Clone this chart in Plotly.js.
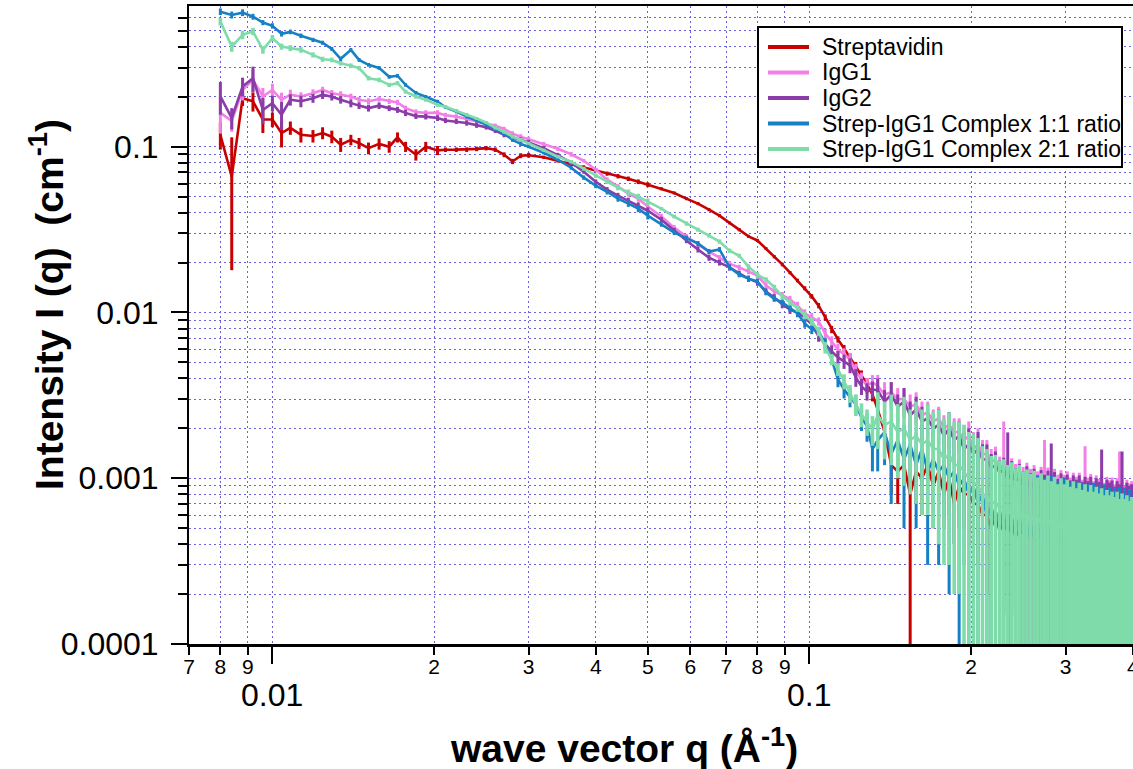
<!DOCTYPE html>
<html>
<head>
<meta charset="utf-8">
<script src="https://cdn.plot.ly/plotly-3.0.1.min.js"></script>
<style>html,body{margin:0;padding:0;background:#fff;}#chart{width:1133px;height:769px;}</style>
</head>
<body>
<div id="chart"></div>
<script>
// ---------- q grids (Å^-1) ----------
const qLow = [0.0080,0.0084,0.0088,0.0092,0.0096,0.0100,0.0104,0.0108,0.0113,0.0119,0.0124,0.0129,0.0134,0.0140,0.0145,0.0151,0.0158,0.0165,0.0171,0.0177,0.0185,0.0193,0.0203];
const qMid = [0.021,0.022,0.023,0.024,0.025,0.026,0.027,0.028,0.029,0.030,
  0.032,0.034,0.036,0.038,0.040,0.042,0.044,0.046,0.048,0.050,
  0.053,0.056,0.059,0.062,0.065,0.068,0.071,0.074,0.077,0.080,0.083,0.086,0.089,0.092,0.095,0.098,0.101,0.104,0.107,0.110,0.113,0.116,0.119,0.122,0.125,0.128,0.131];
const qHigh = [0.134,0.138,0.142,0.146,0.150,0.154,0.158,0.162,0.166,0.170,0.174,0.178,0.182,0.186,0.190,0.194,0.198,0.202,0.206,0.210,
  0.214,0.218,0.222,0.226,0.230,0.234,0.238,0.242,0.246,0.250,0.254,0.258,0.262,0.266,0.270,0.274,0.278,0.282,0.286,0.290,
  0.294,0.298,0.302,0.306,0.310,0.314,0.318,0.322,0.326,0.330,0.334,0.338,0.342,0.346,0.350,0.354,0.358,0.362,0.366,0.370,
  0.374,0.378,0.382,0.386,0.390,0.394,0.398];

// ---------- Streptavidin ----------
const strepLow = [0.118,0.066,0.196,0.188,0.146,0.146,0.121,0.130,0.118,0.116,0.121,0.115,0.103,0.110,0.105,0.098,0.104,0.100,0.114,0.100,0.0895,0.100,0.095];
const strepLowErr = [0.022,0.048,0.020,0.025,0.025,0.015,0.022,0.012,0.012,0.010,0.010,0.010,0.010,0.008,0.008,0.008,0.008,0.008,0.008,0.007,0.007,0.007,0.006];
const strepMid = [0.0959,0.096,0.096,0.097,0.098,0.096,0.0895,0.0815,0.0883,0.0889,
  0.0864,0.0823,0.0785,0.0753,0.0722,0.0688,0.0664,0.0641,0.0615,0.0590,
  0.0558,0.0526,0.0486,0.0454,0.0417,0.0384,0.0347,0.0316,0.0288,0.0272,0.0243,0.0217,0.0195,0.0174,0.0156,0.0140,0.0125,0.0110,0.00933,0.00790,0.00688,0.00607,0.00536,0.00473,0.00417,0.00368,0.00321];
const strepMidErr = [0.003,0.003,0.003,0.003,0.003,0.003,0.003,0.003,0.003,0.003,
  0.002,0.002,0.002,0.002,0.002,0.002,0.002,0.002,0.002,0.002,
  0.0012,0.0011,0.001,0.001,0.0009,0.0008,0.0007,0.0007,0.0006,0.0006,0.0005,0.0005,0.0005,0.0004,0.0004,0.0004,0.0004,0.0004,0.0004,0.0004,0.0003,0.0003,0.0003,0.0003,0.0003,0.0003,0.0003];
const strepHigh = [0.0026,0.0019,0.0012,0.0011,0.0012,0.0008,0.0011,0.0010,0.0012,0.0009,
  0.0011,0.0008,0.0010,0.0007,0.0009,0.0008,0.0008,0.0007,0.0007,0.0006,
  0.0006,0.0005,0.0006,0.00048,0.00055,0.00047,0.00055,0.00044,0.0005,0.00046,
  0.0005,0.00043,0.0005,0.00045,0.00048,0.00042,0.0005,0.0004,0.00047,0.00042,
  0.00047,0.0004,0.00046,0.00042,0.00047,0.0004,0.00045,0.00041,0.00046,0.0004,
  0.00045,0.0004,0.00046,0.00039,0.00045,0.0004,0.00044,0.00039,0.00045,0.0004,
  0.00044,0.00039,0.00045,0.0004,0.00043,0.00039,0.00044];
const strepHighErr = [0.0003,0.0004,0.0004,0.0004,0.0003,0.00075,0.0004,0.0004,0.0004,0.0004,
  0.0004,0.0003,0.0004,0.0003,0.0004,0.0003,0.0004,0.0004,0.0004,0.0004,
  0.0004,0.00045,0.0004,0.00045,0.0004,0.00044,0.0004,0.00042,0.0004,0.00043,
  0.00042,0.0004,0.00045,0.00042,0.0004,0.0004,0.00042,0.00038,0.0004,0.0004,
  0.0004,0.00038,0.0004,0.0004,0.00042,0.00038,0.0004,0.0004,0.0004,0.00038,
  0.0004,0.00038,0.0004,0.00037,0.0004,0.00038,0.0004,0.00037,0.0004,0.00038,
  0.0004,0.00037,0.0004,0.00038,0.0004,0.00037,0.0004];

// ---------- IgG1 ----------
const igg1Low = [0.160,0.143,0.220,0.253,0.201,0.220,0.192,0.206,0.201,0.210,0.220,0.210,0.206,0.201,0.192,0.188,0.194,0.188,0.185,0.171,0.162,0.160,0.160];
const igg1LowErr = [0.040,0.020,0.030,0.040,0.025,0.020,0.020,0.015,0.012,0.012,0.010,0.010,0.010,0.008,0.008,0.008,0.007,0.007,0.007,0.006,0.006,0.006,0.006];
const igg1Mid = [0.155,0.152,0.147,0.142,0.138,0.134,0.128,0.120,0.115,0.111,
  0.104,0.0973,0.0901,0.0823,0.0726,0.0633,0.0574,0.0521,0.0486,0.0436,
  0.0379,0.0325,0.0287,0.0257,0.0233,0.0214,0.0197,0.0187,0.0177,0.0167,0.0146,0.0134,0.0127,0.0120,0.0110,0.00986,0.00933,0.00883,0.00747,0.00668,0.00598,0.00558,0.00521,0.00441,0.00394,0.00363,0.00379];
const igg1MidErr = [0.005,0.005,0.005,0.004,0.004,0.004,0.004,0.004,0.004,0.004,
  0.003,0.003,0.003,0.002,0.002,0.002,0.002,0.002,0.002,0.002,
  0.0015,0.0012,0.001,0.001,0.0009,0.0008,0.0008,0.0007,0.0007,0.0007,0.0006,0.0006,0.0006,0.0006,0.0006,0.0006,0.0006,0.0005,0.0005,0.0005,0.0005,0.0005,0.0005,0.0005,0.0004,0.0004,0.0004];
const igg1High = [0.0036,0.0032,0.0033,0.0030,0.0030,0.0027,0.0028,0.0024,0.0025,0.0022,
  0.0023,0.0020,0.0021,0.0019,0.0019,0.0017,0.0018,0.0015,0.0016,0.0014,
  0.0014,0.00125,0.0013,0.00115,0.0012,0.00107,0.00112,0.00102,0.0011,0.00097,
  0.00104,0.00094,0.00100,0.00090,0.00097,0.00090,0.00096,0.00087,0.00094,0.00085,
  0.00092,0.00085,0.00090,0.00081,0.00088,0.00082,0.00088,0.00078,0.00086,0.00081,
  0.00086,0.00076,0.00084,0.00079,0.00083,0.00074,0.00082,0.00077,0.00081,0.00072,
  0.00080,0.00075,0.00079,0.00070,0.00078,0.00073,0.00076];
const igg1HighErr = [0.0006,0.0006,0.0005,0.0005,0.0005,0.0005,0.0005,0.0005,0.0004,0.0004,
  0.0004,0.0004,0.0004,0.0004,0.0004,0.0004,0.0004,0.0004,0.0004,0.0003,
  0.0003,0.00025,0.00025,0.0002,0.0010,0.0002,0.0002,0.0002,0.0002,0.0002,
  0.0002,0.0002,0.0002,0.0002,0.0002,0.0008,0.0002,0.0002,0.0002,0.0002,
  0.0002,0.0002,0.0002,0.0002,0.0002,0.0002,0.0002,0.0002,0.0007,0.0002,
  0.0002,0.0002,0.0002,0.0002,0.0002,0.0002,0.0002,0.0002,0.0002,0.0002,
  0.0002,0.0007,0.0002,0.0002,0.0002,0.0002,0.0002];

// ---------- IgG2 ----------
const igg2Low = [0.201,0.149,0.231,0.259,0.167,0.183,0.156,0.192,0.188,0.196,0.206,0.200,0.192,0.183,0.177,0.171,0.177,0.171,0.167,0.160,0.153,0.152,0.149];
const igg2LowErr = [0.045,0.022,0.030,0.045,0.030,0.020,0.030,0.015,0.015,0.012,0.012,0.010,0.010,0.010,0.008,0.008,0.008,0.007,0.007,0.007,0.006,0.006,0.006];
const igg2Mid = [0.144,0.142,0.139,0.135,0.131,0.125,0.118,0.114,0.110,0.106,
  0.0980,0.0889,0.0801,0.0707,0.0615,0.0551,0.0507,0.0473,0.0442,0.0411,
  0.0363,0.0312,0.0272,0.0240,0.0214,0.0200,0.0187,0.0172,0.0160,0.0152,0.0134,0.0123,0.0112,0.0104,0.0100,0.00933,0.00847,0.00716,0.00641,0.00582,0.00536,0.00507,0.00480,0.00406,0.00358,0.00334,0.00343];
const igg2MidErr = [0.005,0.005,0.005,0.005,0.004,0.004,0.004,0.004,0.004,0.004,
  0.003,0.003,0.003,0.002,0.002,0.002,0.002,0.002,0.002,0.002,
  0.0015,0.0012,0.001,0.001,0.0009,0.0008,0.0008,0.0007,0.0007,0.0007,0.0006,0.0006,0.0006,0.0006,0.0006,0.0006,0.0006,0.0005,0.0005,0.0005,0.0005,0.0005,0.0005,0.0005,0.0004,0.0004,0.0004];
const igg2High = [0.0034,0.0029,0.0032,0.0027,0.0029,0.0024,0.0026,0.0022,0.0023,0.0020,
  0.0021,0.0018,0.0020,0.0017,0.0018,0.0015,0.0016,0.0014,0.0015,0.0013,
  0.0013,0.00115,0.0012,0.00108,0.00113,0.00099,0.00107,0.00095,0.00102,0.00090,
  0.00098,0.00087,0.00094,0.00084,0.00092,0.00085,0.00091,0.00082,0.00089,0.00079,
  0.00087,0.00081,0.00085,0.00077,0.00084,0.00078,0.00084,0.00075,0.00082,0.00076,
  0.00082,0.00073,0.00080,0.00075,0.00079,0.00071,0.00078,0.00074,0.00077,0.00069,
  0.00076,0.00072,0.00075,0.00067,0.00074,0.00070,0.00072];
const igg2HighErr = [0.0006,0.0005,0.0006,0.0005,0.0006,0.0005,0.0005,0.0005,0.0005,0.0004,
  0.0005,0.0004,0.0005,0.0004,0.0004,0.0004,0.0004,0.0004,0.0004,0.0003,
  0.0003,0.00025,0.00025,0.0002,0.0002,0.0009,0.0002,0.0002,0.0002,0.0002,
  0.0002,0.0002,0.0002,0.0002,0.0002,0.0002,0.0002,0.0008,0.0002,0.0002,
  0.0002,0.0002,0.0002,0.0002,0.0002,0.0002,0.0002,0.0002,0.0002,0.0002,
  0.0002,0.0002,0.0002,0.0002,0.0007,0.0002,0.0002,0.0002,0.0002,0.0002,
  0.0002,0.0002,0.0007,0.0002,0.0002,0.0002,0.0002];

// ---------- Strep-IgG1 Complex 1:1 ----------
const c11Low = [0.653,0.624,0.644,0.609,0.561,0.536,0.480,0.493,0.467,0.441,0.424,0.389,0.339,0.384,0.334,0.312,0.299,0.264,0.268,0.236,0.211,0.200,0.187];
const c11LowErr = [0.030,0.030,0.030,0.025,0.020,0.020,0.018,0.016,0.015,0.013,0.012,0.011,0.010,0.010,0.009,0.008,0.008,0.007,0.007,0.006,0.006,0.005,0.005];
const c11Mid = [0.173,0.163,0.152,0.144,0.136,0.128,0.120,0.110,0.104,0.100,
  0.0920,0.0835,0.0747,0.0651,0.0582,0.0535,0.0486,0.0454,0.0423,0.0384,
  0.0339,0.0303,0.0281,0.0261,0.0233,0.0240,0.0187,0.0169,0.0160,0.0154,0.0132,0.0121,0.0115,0.0106,0.00986,0.00859,0.00790,0.00769,0.00650,0.00521,0.00394,0.00343,0.00308,0.00279,0.00233,0.00206,0.00150];
const c11MidErr = [0.004,0.004,0.004,0.003,0.003,0.003,0.003,0.003,0.003,0.002,
  0.002,0.002,0.002,0.002,0.002,0.002,0.002,0.002,0.002,0.002,
  0.001,0.001,0.001,0.0009,0.0008,0.0008,0.0007,0.0006,0.0006,0.0006,0.0005,0.0005,0.0005,0.0005,0.0005,0.0005,0.0005,0.0005,0.0005,0.0004,0.0004,0.0004,0.0004,0.0004,0.0004,0.0004,0.0004];
const c11High = [0.0017,0.0019,0.0014,0.0017,0.0013,0.0016,0.0012,0.0015,0.0011,0.0013,
  0.0011,0.0012,0.0010,0.0011,0.0009,0.0010,0.0008,0.0009,0.0007,0.0008,
  0.00058,0.00068,0.00053,0.00064,0.0005,0.0006,0.00051,0.00058,0.00047,0.00055,
  0.00044,0.00053,0.00047,0.00053,0.00043,0.00051,0.00046,0.00053,0.00041,0.00049,
  0.00044,0.00051,0.00041,0.00048,0.00039,0.00049,0.00043,0.00048,0.00038,0.00047,
  0.00041,0.00048,0.00037,0.00046,0.00041,0.00047,0.00037,0.00045,0.0004,0.00045,
  0.00036,0.00045,0.00039,0.00045,0.00035,0.00044,0.00038];
const c11HighErr = [0.0006,0.0007,0.0007,0.0006,0.0008,0.0006,0.0007,0.0006,0.0008,0.0006,
  0.0008,0.0006,0.0008,0.0007,0.0008,0.0007,0.0008,0.0008,0.0007,0.0008,
  0.00056,0.00066,0.00051,0.00062,0.00048,0.00058,0.00049,0.00056,0.00045,0.00053,
  0.00042,0.00051,0.00045,0.00051,0.00041,0.00049,0.00044,0.00051,0.00039,0.00047,
  0.00042,0.00049,0.00039,0.00046,0.00037,0.00047,0.00041,0.00046,0.00036,0.00045,
  0.00039,0.00046,0.00035,0.00044,0.00039,0.00045,0.00035,0.00043,0.00038,0.00043,
  0.00034,0.00043,0.00037,0.00043,0.00033,0.00042,0.00036];

// ---------- Strep-IgG1 Complex 2:1 ----------
const c21Low = [0.569,0.402,0.473,0.496,0.384,0.452,0.402,0.394,0.384,0.358,0.337,0.334,0.319,0.308,0.298,0.259,0.253,0.236,0.242,0.215,0.201,0.192,0.179];
const c21LowErr = [0.030,0.028,0.028,0.025,0.020,0.020,0.017,0.016,0.015,0.013,0.012,0.011,0.010,0.010,0.009,0.008,0.008,0.007,0.007,0.006,0.006,0.005,0.005];
const c21Mid = [0.174,0.165,0.156,0.148,0.140,0.130,0.123,0.115,0.110,0.105,
  0.0953,0.0871,0.0812,0.0737,0.0668,0.0615,0.0566,0.0532,0.0500,0.0467,
  0.0423,0.0379,0.0344,0.0316,0.0291,0.0268,0.0236,0.0220,0.0189,0.0169,0.0158,0.0142,0.0125,0.0115,0.0106,0.00959,0.00883,0.00769,0.00615,0.00521,0.00454,0.00384,0.00325,0.00279,0.00243,0.00220,0.00197];
const c21MidErr = [0.004,0.004,0.004,0.003,0.003,0.003,0.003,0.003,0.003,0.002,
  0.002,0.002,0.002,0.002,0.002,0.002,0.002,0.002,0.002,0.002,
  0.001,0.001,0.001,0.0009,0.0008,0.0008,0.0007,0.0006,0.0006,0.0006,0.0005,0.0005,0.0005,0.0005,0.0005,0.0005,0.0005,0.0005,0.0005,0.0004,0.0004,0.0004,0.0004,0.0004,0.0004,0.0004,0.0004];
const c21High = [0.0024,0.0021,0.0022,0.0019,0.0020,0.0017,0.0018,0.0016,0.0017,0.0015,
  0.0015,0.0013,0.0014,0.0012,0.0012,0.0011,0.0010,0.00095,0.0009,0.0008,
  0.00078,0.0007,0.00072,0.00066,0.00068,0.00062,0.00065,0.0006,0.00063,0.00058,
  0.0006,0.00056,0.00059,0.00054,0.00057,0.00053,0.00056,0.00052,0.00055,0.0005,
  0.00054,0.0005,0.00053,0.00049,0.00052,0.00048,0.00051,0.00047,0.0005,0.00046,
  0.0005,0.00046,0.00049,0.00045,0.00048,0.00044,0.00047,0.00044,0.00046,0.00043,
  0.00046,0.00042,0.00045,0.00042,0.00044,0.00041,0.00043];
const c21HighErr = [0.0009,0.0008,0.0010,0.0009,0.0011,0.0009,0.0011,0.0010,0.0011,0.0010,
  0.0011,0.0010,0.0011,0.0010,0.0010,0.0010,0.0009,0.0009,0.00085,0.00076,
  0.00072,0.00066,0.00066,0.00062,0.00062,0.00058,0.0006,0.00055,0.00057,0.00052,
  0.00053,0.0005,0.00052,0.00047,0.0005,0.00045,0.00048,0.00044,0.00047,0.00042,
  0.00046,0.00042,0.00045,0.0004,0.00044,0.00039,0.00043,0.00038,0.00042,0.00037,
  0.00041,0.00037,0.0004,0.00036,0.00039,0.00035,0.00038,0.00035,0.00037,0.00034,
  0.00037,0.00033,0.00036,0.00033,0.00035,0.00032,0.00034];

// ---------- labels & styles ----------
const seriesNames = ['Streptavidin','IgG1','IgG2','Strep-IgG1 Complex 1:1 ratio','Strep-IgG1 Complex 2:1 ratio'];
const seriesColors = ['#c80000','#f47fe6','#8a3ca8','#1680c6','#7fdcaa'];
const xTickVals = [0.007,0.008,0.009,0.01,0.02,0.03,0.04,0.05,0.06,0.07,0.08,0.09,0.1,0.2,0.3,0.4];
const xTickText = ['7','8','9','','2','3','4','5','6','7','8','9','','2','3','4'];
const xDecadeVals = [0.01,0.1];
const xDecadeText = ['0.01','0.1'];
const yTickVals = [0.0001,0.001,0.01,0.1];
const yTickText = ['0.0001','0.001','0.01','0.1'];
const yMinorVals = [0.0002,0.0003,0.0004,0.0005,0.0006,0.0007,0.0008,0.0009,
  0.002,0.003,0.004,0.005,0.006,0.007,0.008,0.009,
  0.02,0.03,0.04,0.05,0.06,0.07,0.08,0.09,
  0.2,0.3,0.4,0.5,0.6];

const qAll = qLow.concat(qMid, qHigh);
const ySets = [
  [strepLow.concat(strepMid, strepHigh), strepLowErr.concat(strepMidErr, strepHighErr)],
  [igg1Low.concat(igg1Mid, igg1High), igg1LowErr.concat(igg1MidErr, igg1HighErr)],
  [igg2Low.concat(igg2Mid, igg2High), igg2LowErr.concat(igg2MidErr, igg2HighErr)],
  [c11Low.concat(c11Mid, c11High), c11LowErr.concat(c11MidErr, c11HighErr)],
  [c21Low.concat(c21Mid, c21High), c21LowErr.concat(c21MidErr, c21HighErr)]
];
const errThickness = [3, 3, 3, 3, 3.6];

const traces = ySets.map((s, i) => ({
  type: 'scatter', mode: 'lines', name: seriesNames[i], showlegend: false,
  x: qAll, y: s[0],
  line: {color: seriesColors[i], width: 2.6},
  error_y: {type: 'data', array: s[1], visible: true, color: seriesColors[i], thickness: errThickness[i], width: 0}
}));

const FONT = 'Liberation Sans, Arial, sans-serif';
const GRID = '#6a64dc';

// plot-area pixel geometry (for placing legend box / titles in paper coords)
const PL = 189, PW = 944, PB = 644, PH = 638;
const px = v => (v - PL) / PW;
const py = v => (PB - v) / PH;

const shapes = [{type: 'rect', xref: 'paper', yref: 'paper', x0: px(758), x1: px(1122), y0: py(167), y1: py(27),
  fillcolor: '#ffffff', line: {color: '#000', width: 2}, layer: 'above'}];
const annotations = [];
seriesNames.forEach((n, i) => {
  const yy = py(47 + 25.5 * i);
  shapes.push({type: 'line', xref: 'paper', yref: 'paper', x0: px(768), x1: px(809), y0: yy, y1: yy,
    line: {color: seriesColors[i], width: 4}, layer: 'above'});
  annotations.push({xref: 'paper', yref: 'paper', x: px(820), y: yy, text: n, showarrow: false,
    xanchor: 'left', yanchor: 'middle', font: {family: FONT, size: 23, color: '#000'}});
});
xDecadeVals.forEach((v, i) => annotations.push({xref: 'x', yref: 'paper', x: Math.log10(v), y: py(695),
  text: xDecadeText[i], showarrow: false, xanchor: 'center', yanchor: 'middle',
  font: {family: FONT, size: 32, color: '#000'}}));
annotations.push({xref: 'paper', yref: 'paper', x: px(624), y: py(745), showarrow: false,
  xanchor: 'center', yanchor: 'middle',
  text: '<b>wave vector q (Å<sup>-1</sup>)</b>', font: {family: FONT, size: 39, color: '#000'}});
annotations.push({xref: 'paper', yref: 'paper', x: px(47), y: py(305), showarrow: false,
  xanchor: 'center', yanchor: 'middle', textangle: -90,
  text: '<b>Intensity I (q)  (cm<sup>-1</sup>)</b>', font: {family: FONT, size: 39, color: '#000'}});

const layout = {
  width: 1133, height: 769,
  margin: {l: 189, r: 0, t: 6, b: 125},
  paper_bgcolor: '#ffffff', plot_bgcolor: '#ffffff',
  font: {family: FONT, color: '#000'},
  showlegend: false,
  xaxis: {
    type: 'log',
    range: [Math.log10(0.007) - 0.0004, Math.log10(0.4) + 0.0004],
    tickmode: 'array', tickvals: xTickVals, ticktext: xTickText,
    ticks: 'outside', ticklen: 8, tickwidth: 2, tickcolor: '#000',
    tickfont: {family: FONT, size: 21, color: '#000'},
    ticklabelstandoff: -6, ticklabeloverflow: 'allow',
    showline: true, linecolor: '#000', linewidth: 2.5, mirror: true,
    showgrid: true, gridcolor: GRID, gridwidth: 1, griddash: '2px,3px',
    zeroline: false,
    minor: {tickmode: 'array', tickvals: xDecadeVals, ticks: 'outside', ticklen: 17, tickwidth: 2, tickcolor: '#000', showgrid: false}
  },
  yaxis: {
    type: 'log',
    range: [-4, -0.151],
    tickmode: 'array', tickvals: yTickVals, ticktext: yTickText,
    ticks: 'outside', ticklen: 16, tickwidth: 2, tickcolor: '#000',
    tickfont: {family: FONT, size: 32, color: '#000'},
    ticklabelstandoff: 6,
    showline: true, linecolor: '#000', linewidth: 2,
    showgrid: true, gridcolor: GRID, gridwidth: 1, griddash: '2px,3px',
    zeroline: false,
    minor: {tickmode: 'array', tickvals: yMinorVals, ticks: 'outside', ticklen: 9, tickwidth: 2, tickcolor: '#000',
      showgrid: true, gridcolor: GRID, gridwidth: 1, griddash: '2px,3px'}
  },
  shapes: shapes,
  annotations: annotations
};

Plotly.newPlot('chart', traces, layout, {displayModeBar: false, staticPlot: true});
</script>
</body>
</html>
